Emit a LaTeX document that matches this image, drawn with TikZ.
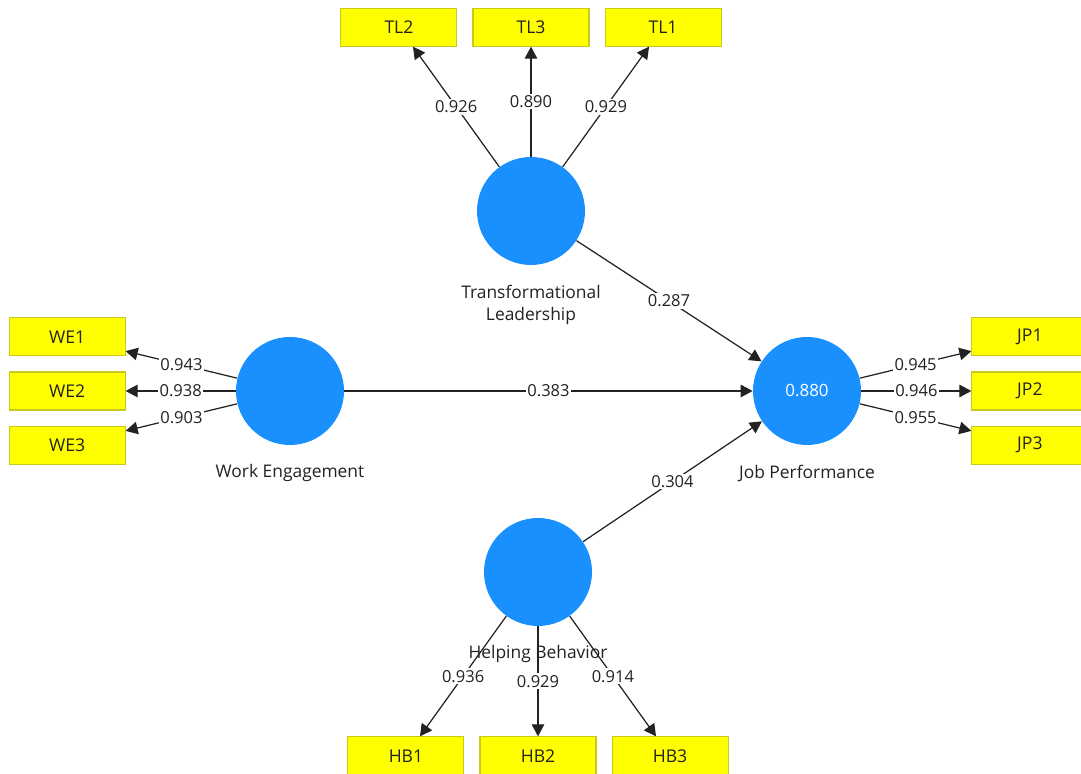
\documentclass[tikz,border=0pt]{standalone}
\usepackage{fontspec}
\setmainfont{Open Sans}
\usepackage{tikz}
\usetikzlibrary{arrows.meta,positioning}
\definecolor{plsblue}{HTML}{1A90FF}
\definecolor{plsyellow}{HTML}{FFFF00}
\definecolor{plsborder}{HTML}{C8C81E}
\definecolor{ink}{HTML}{222222}
\tikzset{
  construct/.style={circle,fill=plsblue,minimum size=21.6mm,inner sep=0pt,
    text=white,font=\fontsize{9.6}{13}\selectfont},
  indicator/.style={rectangle,draw=plsborder,line width=0.6pt,fill=plsyellow,
    minimum width=23.2mm,minimum height=7.6mm,inner sep=0pt,text=ink,
    font=\fontsize{10}{13}\selectfont},
  caption/.style={align=center,inner sep=0pt,text=ink,font=\fontsize{9.9}{13}\selectfont},
  weight/.style={fill=white,inner sep=1pt,text=ink,font=\fontsize{9.4}{13}\selectfont},
  arrow/.style={-{Triangle[length=2.4mm,width=2.5mm]},line width=0.7pt,draw=ink}
}
\begin{document}
\begin{tikzpicture}
\useasboundingbox[fill=white] (0,0) rectangle (21.62,15.48);
% constructs
\node[construct] (TL) at (10.62,11.26) {};
\node[construct] (WE) at (5.80,7.66) {};
\node[construct] (JP) at (16.14,7.66) {0.880};
\node[construct] (HB) at (10.76,4.04) {};
% indicators
\node[indicator,above=2.2cm of TL] (TL3) {TL3};
\node[indicator,left=0.3cm of TL3] (TL2) {TL2};
\node[indicator,right=0.3cm of TL3] (TL1) {TL1};
\node[indicator,left=2.2cm of WE] (WE2) {WE2};
\node[indicator,above=0.3cm of WE2] (WE1) {WE1};
\node[indicator,below=0.3cm of WE2] (WE3) {WE3};
\node[indicator,right=2.2cm of JP] (JP2) {JP2};
\node[indicator,above=0.3cm of JP2] (JP1) {JP1};
\node[indicator,below=0.3cm of JP2] (JP3) {JP3};
\node[indicator,below=2.2cm of HB] (HB2) {HB2};
\node[indicator,left=0.3cm of HB2] (HB1) {HB1};
\node[indicator,right=0.3cm of HB2] (HB3) {HB3};
% outer loadings
\draw[arrow] (TL) -- node[weight]{0.926} (TL2);
\draw[arrow] (TL) -- node[weight]{0.890} (TL3);
\draw[arrow] (TL) -- node[weight]{0.929} (TL1);
\draw[arrow] (WE) -- node[weight]{0.943} (WE1);
\draw[arrow] (WE) -- node[weight]{0.938} (WE2);
\draw[arrow] (WE) -- node[weight]{0.903} (WE3);
\draw[arrow] (JP) -- node[weight]{0.945} (JP1);
\draw[arrow] (JP) -- node[weight]{0.946} (JP2);
\draw[arrow] (JP) -- node[weight]{0.955} (JP3);
\draw[arrow] (HB) -- node[weight]{0.936} (HB1);
\draw[arrow] (HB) -- node[weight]{0.929} (HB2);
\draw[arrow] (HB) -- node[weight]{0.914} (HB3);
% path coefficients
\draw[arrow] (TL) -- node[weight]{0.287} (JP);
\draw[arrow] (WE) -- node[weight]{0.383} (JP);
\draw[arrow] (HB) -- node[weight]{0.304} (JP);
% captions
\node[caption,below=0.38cm of TL] (TLcap) {Transformational\\Leadership};
\node[caption,below=0.38cm of WE] (WEcap) {Work Engagement};
\node[caption,below=0.38cm of JP] (JPcap) {Job Performance};
\node[caption,below=0.38cm of HB] (HBcap) {Helping Behavior};
\end{tikzpicture}
\end{document}
